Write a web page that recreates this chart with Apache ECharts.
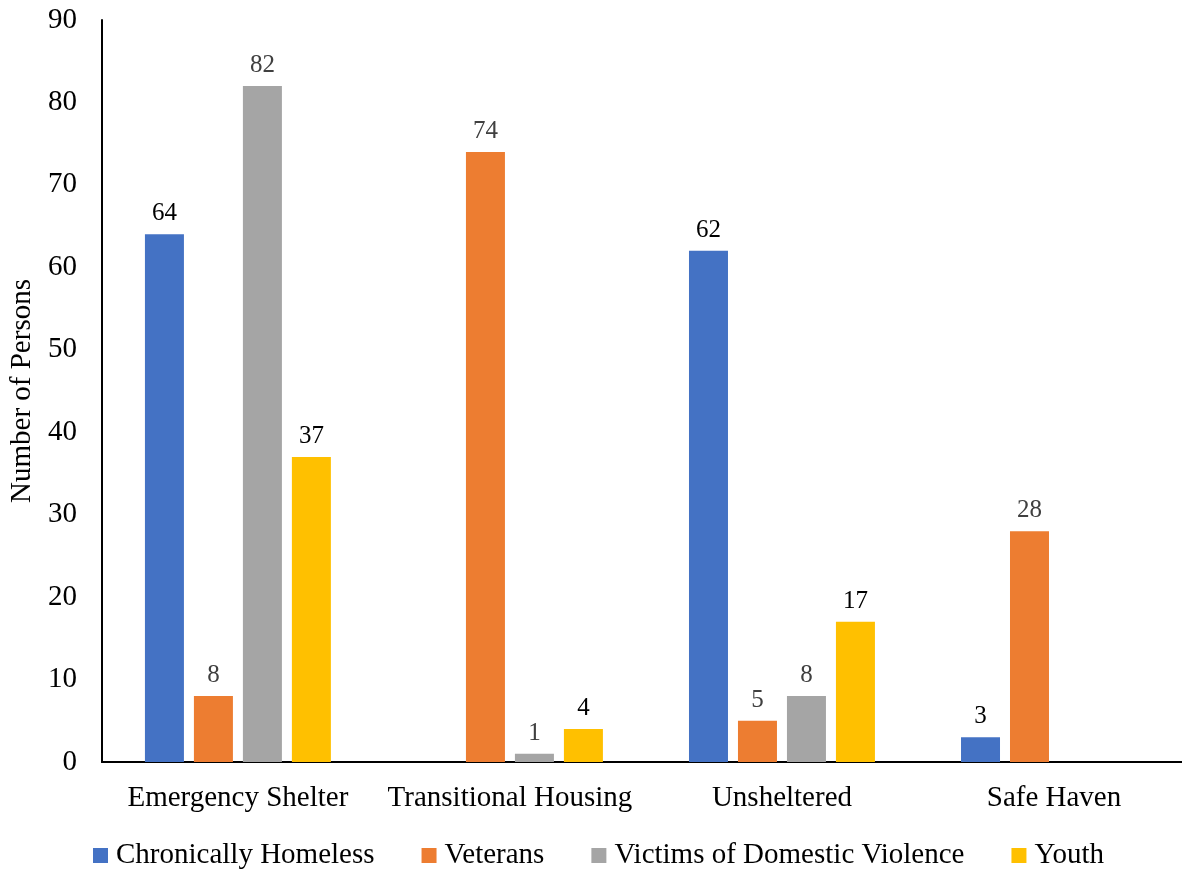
<!DOCTYPE html>
<html>
<head>
<meta charset="utf-8">
<script src="https://cdn.jsdelivr.net/npm/echarts@6/dist/echarts.min.js"></script>
<style>html,body{margin:0;padding:0;background:#fff;overflow:hidden}#c{width:1190px;height:869px}</style>
</head>
<body>
<div id="c"></div>
<script>
const categories = ["Emergency Shelter", "Transitional Housing", "Unsheltered", "Safe Haven"];
const seriesNames = ["Chronically Homeless", "Veterans", "Victims of Domestic Violence", "Youth"];
const chronicallyHomeless = [64, null, 62, 3];
const veterans = [8, 74, 5, 28];
const domesticViolence = [82, 1, 8, null];
const youth = [37, 4, 17, null];
const yTicks = {min: 0, max: 90, interval: 10};

const colors = ["#4472C4", "#ED7D31", "#A5A5A5", "#FFC000"];
const labelColors = ["#000000", "#404040", "#404040", "#000000"];
const dataSets = [chronicallyHomeless, veterans, domesticViolence, youth];
const FONT = "'Liberation Serif', 'Times New Roman', serif";

const chart = echarts.init(document.getElementById('c'), null, {renderer: 'canvas'});
chart.setOption({
  animation: false,
  color: colors,
  textStyle: {fontFamily: FONT},
  grid: {left: 100, right: 0, top: 20, bottom: 107, containLabel: false},
  legend: {
    top: 841, left: 93, padding: 0,
    itemWidth: 15, itemHeight: 15, itemGap: 47,
    icon: 'rect',
    textStyle: {fontFamily: FONT, fontSize: 29, color: '#000', padding: [0, 0, 0, 3]},
    data: seriesNames
  },
  xAxis: {
    type: 'category', data: categories,
    axisLine: {lineStyle: {color: '#000', width: 2}},
    axisTick: {show: false},
    axisLabel: {fontFamily: FONT, fontSize: 29, color: '#000', margin: 22, interval: 0}
  },
  yAxis: {
    type: 'value', min: yTicks.min, max: yTicks.max, interval: yTicks.interval,
    name: 'Number of Persons', nameLocation: 'middle', nameGap: 64,
    nameTextStyle: {fontFamily: FONT, fontSize: 29, color: '#000'},
    axisLine: {show: true, lineStyle: {color: '#000', width: 2}},
    axisTick: {show: false},
    splitLine: {show: false},
    axisLabel: {fontFamily: FONT, fontSize: 29, color: '#000', margin: 25}
  },
  series: seriesNames.map((n, i) => ({
    name: n, type: 'bar', data: dataSets[i],
    barWidth: 39, barGap: '25.6%',
    itemStyle: {color: colors[i]},
    label: {show: true, position: 'top', distance: 8, fontFamily: FONT, fontSize: 25, color: labelColors[i]}
  }))
});
</script>
</body>
</html>
